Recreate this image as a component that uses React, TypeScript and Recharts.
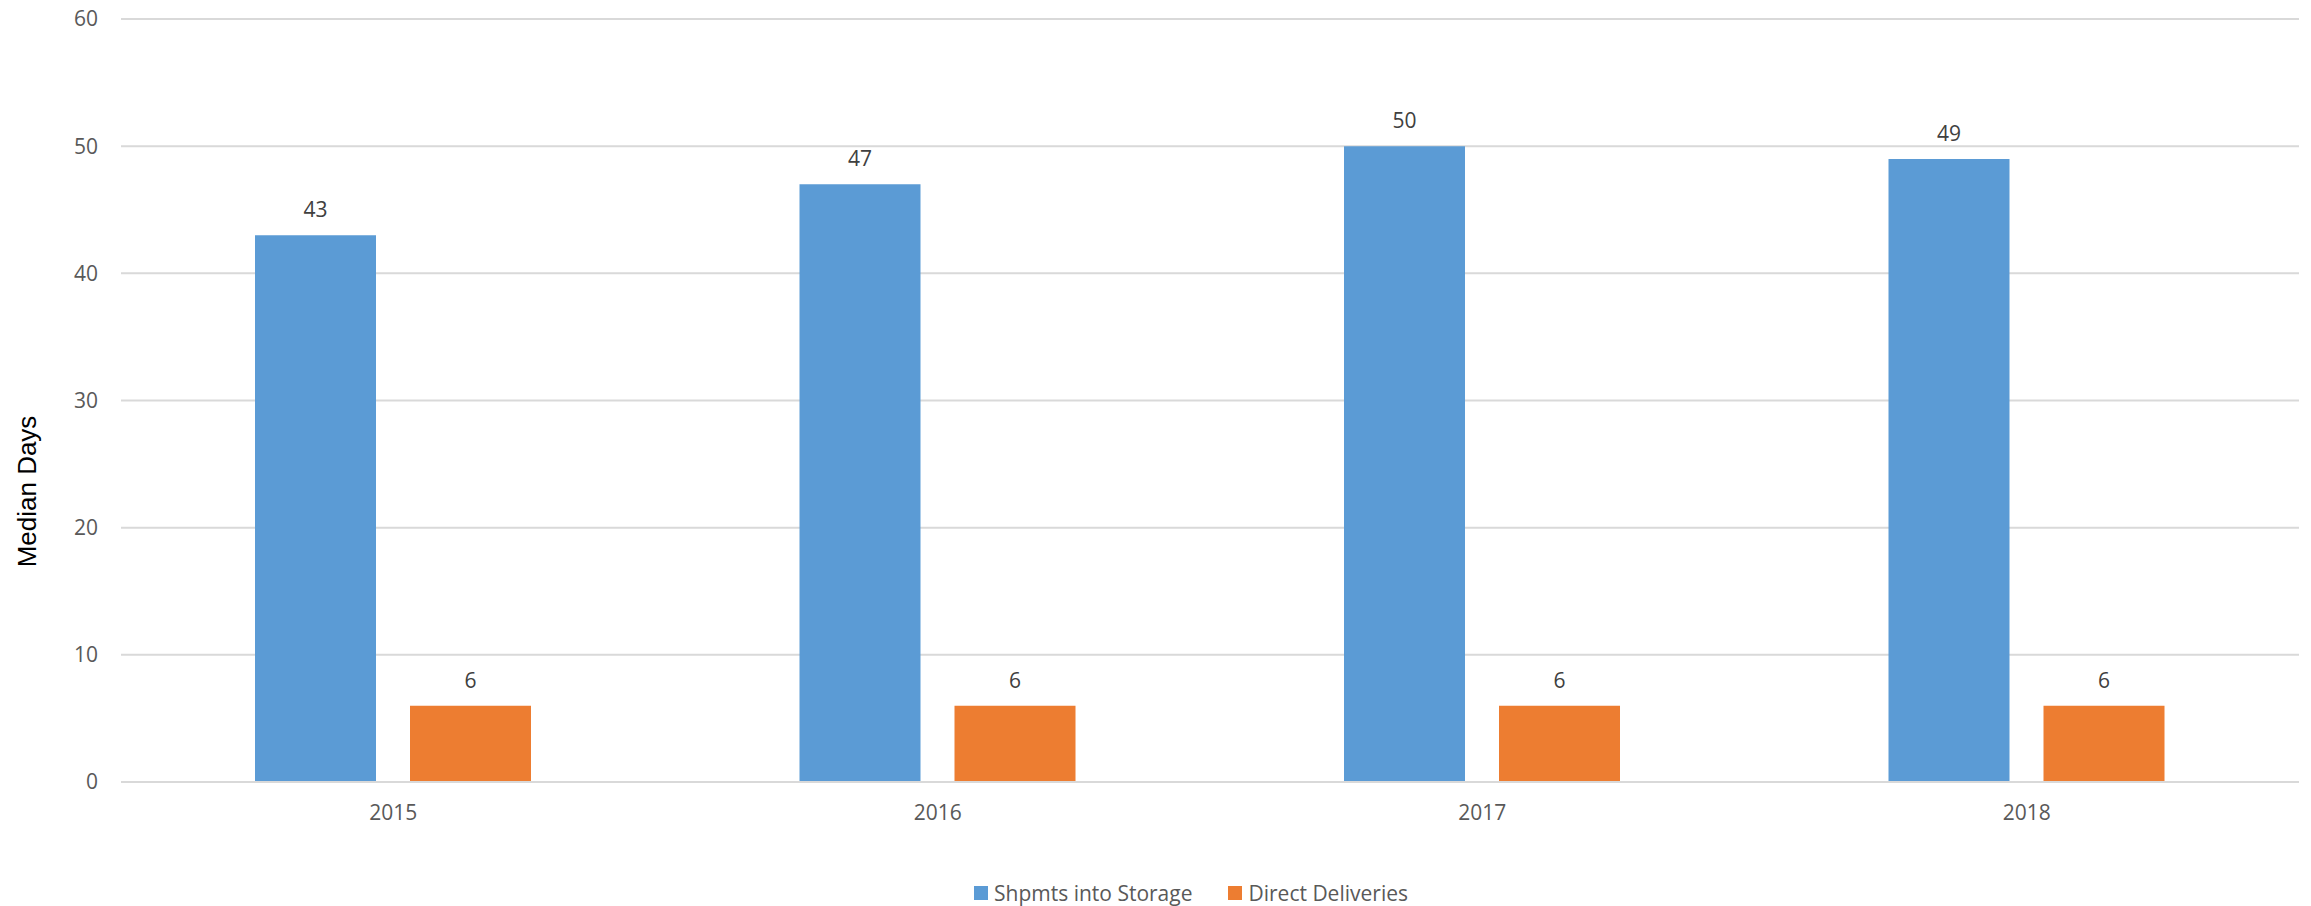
import React from 'react';
import { BarChart, Bar, XAxis, YAxis, CartesianGrid, Legend, LabelList } from 'recharts';

const years = ['2015', '2016', '2017', '2018'];
const storage = [43, 47, 50, 49];
const direct = [6, 6, 6, 6];
const yTicks = [0, 10, 20, 30, 40, 50, 60];

const seriesKeys = ['storage', 'direct'];
const seriesNames: Record<string, string> = { storage: 'Shpmts into Storage', direct: 'Direct Deliveries' };
const colors: Record<string, string> = { storage: '#5B9BD5', direct: '#ED7D31' };

const data = years.map((y, i) => ({ year: y, storage: storage[i], direct: direct[i] }));

const FONT = '"Open Sans", sans-serif';

const LegendContent = (props: any) => {
  const { payload } = props;
  const items = seriesKeys
    .map((k) => (payload || []).find((p: any) => p.dataKey === k))
    .filter(Boolean);
  return (
    <div style={{ display: 'flex', paddingLeft: 974, paddingTop: 26, height: 50, boxSizing: 'border-box', alignItems: 'flex-start' }}>
      {items.map((p: any, i: number) => (
        <div key={i} style={{ display: 'flex', alignItems: 'center', marginRight: 36, height: 22 }}>
          <div style={{ width: 14, height: 14, background: p.color, marginRight: 6 }} />
          <span style={{ fontFamily: FONT, fontSize: 21, color: '#595959', lineHeight: '22px', whiteSpace: 'nowrap' }}>{p.value}</span>
        </div>
      ))}
    </div>
  );
};

export default function App() {
  return (
    <div style={{ position: 'absolute', left: 0, top: 0, background: '#fff' }}>
      <BarChart
        width={2311}
        height={906}
        data={data}
        margin={{ top: 19, right: 12, left: 0, bottom: 0 }}
        barSize={121}
        barGap={34}
      >
        <CartesianGrid vertical={false} stroke="#d9d9d9" strokeWidth={2} />
        <XAxis
          dataKey="year"
          height={74}
          axisLine={{ stroke: '#d9d9d9', strokeWidth: 2 }}
          tickLine={false}
          tickSize={0}
          tickMargin={23}
          tick={{ fill: '#595959', fontSize: 21, fontFamily: FONT }}
        />
        <YAxis
          width={121}
          domain={[0, 60]}
          ticks={yTicks}
          axisLine={false}
          tickLine={false}
          tickSize={0}
          tickMargin={23}
          tick={{ fill: '#595959', fontSize: 21, fontFamily: FONT }}
          label={{
            value: 'Median Days',
            angle: -90,
            position: 'center',
            dx: -33.5,
            dy: 91,
            style: { fill: '#000', fontSize: 26, fontFamily: '"Liberation Sans", Arial, sans-serif', textAnchor: 'middle' },
          }}
        />
        <Legend verticalAlign="bottom" height={50} content={<LegendContent />} wrapperStyle={{ left: 0, width: 2311 }} />
        <Bar dataKey="storage" name={seriesNames.storage} fill={colors.storage} isAnimationActive={false}>
          <LabelList dataKey="storage" position="top" offset={18} style={{ fill: '#404040', fontSize: 21, fontFamily: FONT }} />
        </Bar>
        <Bar dataKey="direct" name={seriesNames.direct} fill={colors.direct} isAnimationActive={false}>
          <LabelList dataKey="direct" position="top" offset={18} style={{ fill: '#404040', fontSize: 21, fontFamily: FONT }} />
        </Bar>
      </BarChart>
    </div>
  );
}
